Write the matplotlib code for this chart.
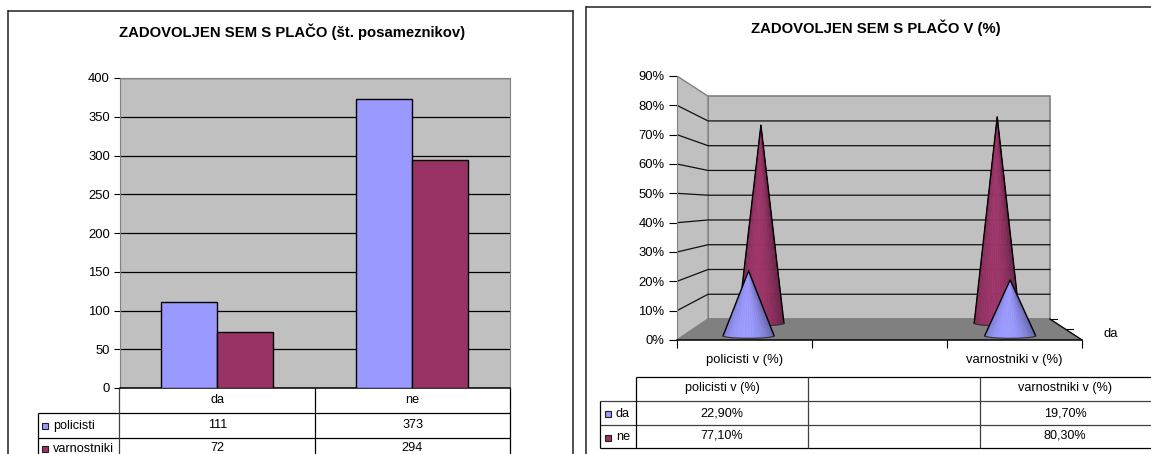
import matplotlib
matplotlib.use('Agg')
import matplotlib.pyplot as plt
import numpy as np
from matplotlib.collections import PolyCollection
from matplotlib.patches import Polygon, Rectangle

plt.rcParams['font.family'] = ['Liberation Sans', 'DejaVu Sans']

W, H = 1151, 454
FS = 9.1       # table text
FS_TICK = 9.4  # axis labels
FS_TITLE = 10.75

# --- data, left chart ---
categories = ['da', 'ne']
policisti = [111, 373]
varnostniki = [72, 294]
series_left = ['policisti', 'varnostniki']
title_left = 'ZADOVOLJEN SEM S PLAČO (št. posameznikov)'
yticks_left = [0, 50, 100, 150, 200, 250, 300, 350, 400]

# --- data, right chart ---
groups = ['policisti v (%)', 'varnostniki v (%)']
da_pct = [22.9, 19.7]
ne_pct = [77.1, 80.3]
title_right = 'ZADOVOLJEN SEM S PLAČO V (%)'
yticks_right = [0, 10, 20, 30, 40, 50, 60, 70, 80, 90]

BLUE = '#9999FF'
RED = '#993366'
WALL = '#C0C0C0'
FLOOR = '#808080'


def axes_px(x0, y0, x1, y1, **kw):
    """Axes placed by pixel box, y measured from the top of the image."""
    return fig.add_axes([x0 / W, 1 - y1 / H, (x1 - x0) / W, (y1 - y0) / H], **kw)


def pct(v):
    return f"{v:.2f}".replace('.', ',') + '%'


fig = plt.figure(figsize=(W / 100, H / 100), dpi=100, facecolor='white')

# --- left chart ---
ax = axes_px(119.5, 78, 510, 388, facecolor=WALL)
bar_w = 0.287
xpos = np.array([0.5, 1.5])
ax.bar(xpos - bar_w / 2, policisti, bar_w, color=BLUE, edgecolor='black', linewidth=1.0, zorder=3)
ax.bar(xpos + bar_w / 2, varnostniki, bar_w, color=RED, edgecolor='black', linewidth=1.0, zorder=3)
ax.set_xlim(0, 2)
ax.set_ylim(0, 400)
ax.set_yticks(yticks_left)
ax.yaxis.grid(True, color='black', linewidth=0.9, zorder=1)
ax.set_axisbelow(True)
ax.set_xticks([])
ax.tick_params(axis='y', length=4, width=0.8, pad=3, labelsize=FS_TICK)
for s in ['top', 'right', 'left']:
    ax.spines[s].set_color(FLOOR)
ax.spines['bottom'].set_linewidth(1.1)

# --- right chart, a flat axes with a small perspective helper ---
ax3 = axes_px(677, 76, 1082, 340, facecolor='none')
ax3.set_xlim(0, 3)
ax3.set_ylim(0, 90)
BACK_SCALE = 0.844
BACK_DX = 0.23
BACK_DY = 7.16


def project(x, v, d):
    """d is depth: 0 on the front plane, 1 on the back wall."""
    s = 1 - d * (1 - BACK_SCALE)
    return d * BACK_DX + x * s, d * BACK_DY + v * s


corners_back = [project(0, 0, 1), project(3, 0, 1), project(3, 90, 1), project(0, 90, 1)]
ax3.add_patch(Polygon(corners_back, facecolor=WALL, edgecolor=FLOOR, linewidth=1.2, zorder=1))
ax3.add_patch(Polygon([project(0, 0, 0), project(0, 0, 1), project(0, 90, 1), project(0, 90, 0)],
                      facecolor=WALL, edgecolor=FLOOR, linewidth=1.0, zorder=1))
ax3.add_patch(Polygon([project(0, 0, 0), project(3, 0, 0), project(3, 0, 1), project(0, 0, 1)],
                      facecolor=FLOOR, edgecolor=FLOOR, linewidth=0.8, zorder=1))
for v in yticks_right[1:-1]:
    a = project(0, v, 0)
    b = project(0, v, 1)
    c = project(3, v, 1)
    ax3.plot([a[0], b[0], c[0]], [a[1], b[1], c[1]], color='#101010', linewidth=0.9, zorder=2)

# small depth ticks at the right of the floor
for d in [0.5, 1]:
    p = project(3, 0, d)
    ax3.plot([p[0], p[0] + 0.055], [p[1], p[1]], color='black', linewidth=0.8, zorder=2, clip_on=False)
p0 = project(3, 0, 0)
p1 = project(3, 0, 1)
ax3.plot([p0[0], p1[0]], [p0[1], p1[1]], color='black', linewidth=0.9, zorder=2, clip_on=False)
ax3.text(3.16, 2.0, 'da', fontsize=FS_TICK, ha='left', va='center', clip_on=False)


def cone(x, value, d, color, zorder):
    s = 1 - d * (1 - BACK_SCALE)
    apex = project(x, value, d)
    cx, cy = project(x, 0, d)
    half = 0.195 * s
    theta = np.linspace(np.pi, 2 * np.pi, 25)
    bx = cx + half * np.cos(theta)
    by = cy + 0.85 * np.sin(theta)
    polys = []
    cols = []
    base = np.array(matplotlib.colors.to_rgb(color))
    for i in range(len(theta) - 1):
        polys.append([apex, (bx[i], by[i]), (bx[i + 1], by[i + 1])])
        t = np.cos((theta[i] + theta[i + 1]) / 2)
        shade = 1.03 - 0.27 * abs(t + 0.15) ** 2
        cols.append(np.clip(base * shade, 0, 1))
    # edges in the face colour so the strips close up
    ax3.add_collection(PolyCollection(polys, facecolors=cols, edgecolors='face', linewidths=0.4, zorder=zorder))
    ax3.plot([bx[0], apex[0], bx[-1]], [by[0], apex[1], by[-1]], color='black', linewidth=1.0, zorder=zorder + 0.1)
    ax3.plot(bx, by, color='#303030', linewidth=0.8, zorder=zorder + 0.1)


for i, xc in enumerate([0.5, 2.5]):
    cone(xc, ne_pct[i], 0.8, RED, 3)
for i, xc in enumerate([0.5, 2.5]):
    cone(xc, da_pct[i], 0.2, BLUE, 4)

ax3.set_yticks(yticks_right)
ax3.set_yticklabels([f"{v}%" for v in yticks_right])
ax3.set_xticks([0, 1, 2, 3])
ax3.set_xticklabels([])
ax3.set_xticks([0.5, 2.5], groups, minor=True)
ax3.tick_params(axis='x', which='major', length=6, width=0.8)
ax3.tick_params(axis='x', which='minor', length=0, pad=10, labelsize=FS_TICK)
ax3.tick_params(axis='y', length=6, width=0.8, pad=3, labelsize=FS_TICK)
for s in ['top', 'right']:
    ax3.spines[s].set_visible(False)
ax3.spines['left'].set_color(FLOOR)
ax3.spines['bottom'].set_linewidth(1.1)

# --- frames, titles and data tables in image pixels ---
ov = fig.add_axes([0, 0, 1, 1], facecolor='none', zorder=5)
ov.set_xlim(0, W)
ov.set_ylim(H, 0)
ov.axis('off')


def hline(y, x0, x1, c='black', lw=0.9):
    ov.plot([x0, x1], [y, y], color=c, linewidth=lw, solid_capstyle='butt')


def vline(x, y0, y1, c='black', lw=0.9):
    ov.plot([x, x], [y0, y1], color=c, linewidth=lw, solid_capstyle='butt')


def swatch(x, y, color):
    ov.add_patch(Rectangle((x - 3, y - 3), 6, 6, facecolor=color, edgecolor='#202020', linewidth=0.8))


# left frame
hline(10.5, 8, 573, '#202020', 1.1)
vline(8.5, 10, H, '#202020', 1.1)
vline(573.5, 10, H, '#202020', 1.1)
ov.text(292, 32, title_left, fontsize=FS_TITLE, fontweight='bold', ha='center', va='center')

# left table
hline(413, 38.5, 510)
hline(437.5, 38.5, 510)
vline(38.5, 413, H)
vline(119.5, 388, H, '#404040')
vline(315, 388, H)
vline(510, 388, H)
for i, c in enumerate(categories):
    xc = [217.5, 412.5][i]
    ov.text(xc, 400, c, fontsize=FS, ha='center', va='center')
    ov.text(xc, 425, str(policisti[i]), fontsize=FS, ha='center', va='center')
    ov.text(xc, 448, str(varnostniki[i]), fontsize=FS, ha='center', va='center')
for i, name in enumerate(series_left):
    y = [426, 449][i]
    swatch(45.5, y, [BLUE, RED][i])
    ov.text(53, y, name, fontsize=FS, ha='left', va='center')

# right frame
hline(6.5, 586, W, '#202020', 1.1)
vline(586.5, 6, H, '#202020', 1.1)
ov.text(876, 28, title_right, fontsize=FS_TITLE, fontweight='bold', ha='center', va='center')

# right table
hline(377, 636, W)
hline(401, 600, W, '#404040')
hline(425, 600, W, '#404040')
hline(447.5, 600, W)
vline(600, 401, 447.5)
vline(636, 377, 447.5)
vline(808, 377, 447.5, '#404040')
vline(980, 377, 447.5, '#404040')
for i, g in enumerate(groups):
    xc = [722, 1065][i]
    ov.text(xc, 388, g, fontsize=FS, ha='center', va='center')
    ov.text(xc, 413, pct(da_pct[i]), fontsize=FS, ha='center', va='center')
    ov.text(xc, 436, pct(ne_pct[i]), fontsize=FS, ha='center', va='center')
for i, name in enumerate(categories):
    y = [414, 437.5][i]
    swatch(608, y, [BLUE, RED][i])
    ov.text(616, y, name, fontsize=FS, ha='left', va='center')

fig.savefig('out.png', dpi=100)
